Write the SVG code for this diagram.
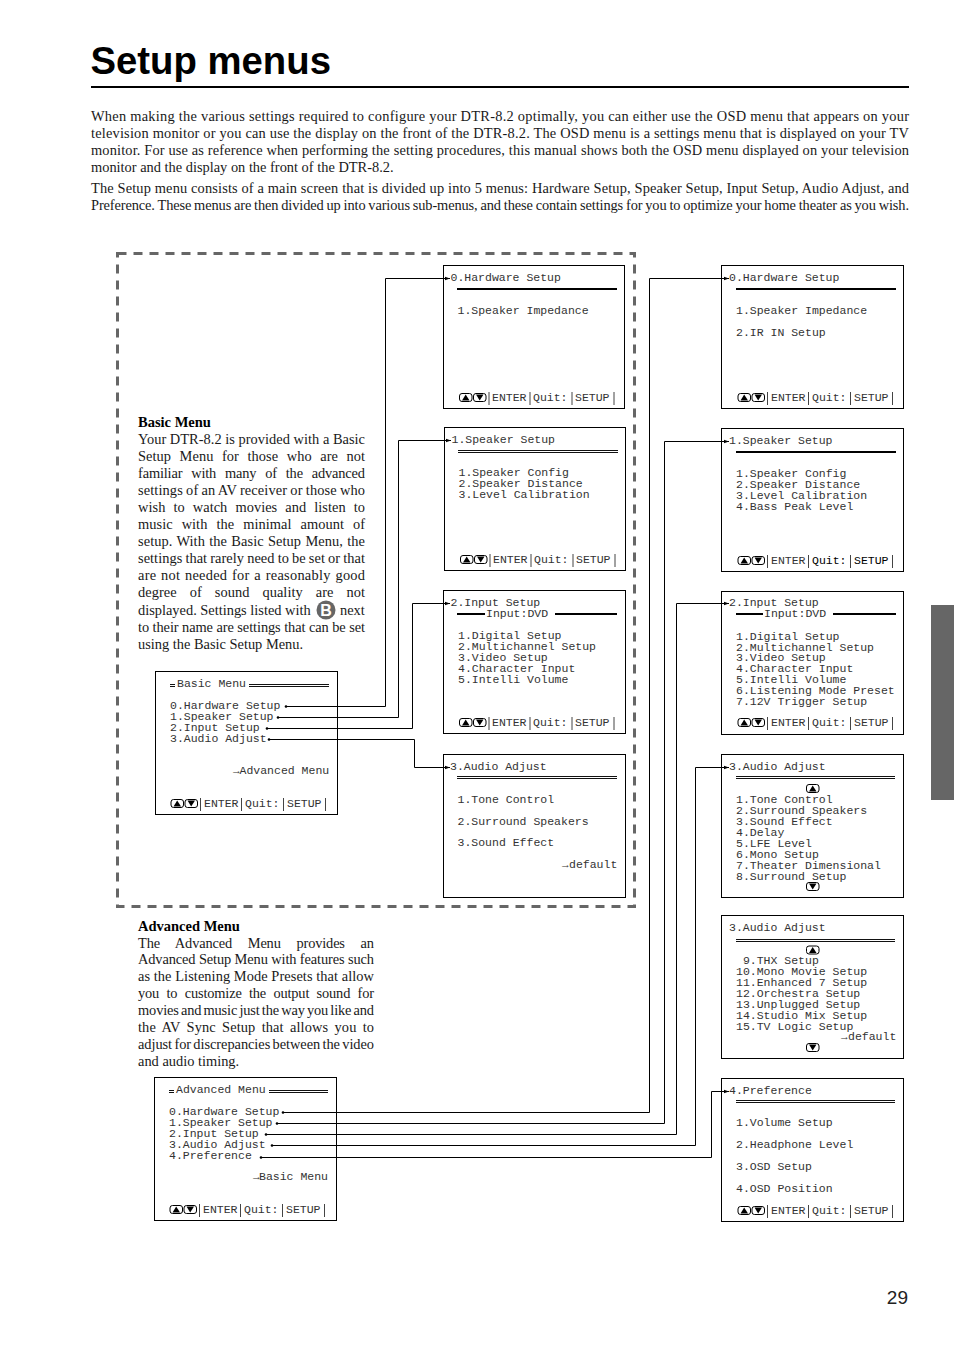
<svg xmlns="http://www.w3.org/2000/svg" width="954" height="1351" viewBox="0 0 954 1351">
<style>
text{font-family:"Liberation Serif","Times New Roman",serif;font-size:14.4px;fill:#1a1a1a}
.h{font-family:"Liberation Sans",Arial,sans-serif;font-weight:700;font-size:38.3px;fill:#000}
.pn{font-family:"Liberation Sans",Arial,sans-serif;font-size:19px;fill:#222}
.b{font-weight:700;fill:#000}
.m{font-family:"Liberation Mono","Courier New",monospace;font-size:11.5px;fill:#333}
.ar{font-size:11px}
.box{fill:#fff;stroke:#000;stroke-width:1}
.r1{stroke:#000;stroke-width:2;fill:none}
.r2{stroke:#111;stroke-width:1;fill:none}
.c{fill:none;stroke:#000;stroke-width:1;marker-end:url(#ah);marker-start:url(#dot)}
</style>
<defs>
<marker id="ah" markerUnits="userSpaceOnUse" markerWidth="7" markerHeight="6" refX="5.5" refY="3" orient="auto"><path d="M0 1L5.5 3L0 5Z" fill="#000"/></marker>
<marker id="dot" markerUnits="userSpaceOnUse" markerWidth="4" markerHeight="4" refX="2" refY="2"><circle cx="2" cy="2" r="1.3" fill="#000"/></marker>
<g id="bu"><rect x="0.5" y="0.5" width="12.5" height="8" rx="2.5" fill="#fff" stroke="#000"/><path d="M6.7 1.5L10.5 7.5H3Z" fill="#000"/></g>
<g id="bd"><rect x="0.5" y="0.5" width="12.5" height="8" rx="2.5" fill="#fff" stroke="#000"/><path d="M6.7 7.5L10.5 1.5H3Z" fill="#000"/></g>
<g id="foot"><use href="#bu" x="0" y="-8"/><use href="#bd" x="14" y="-8"/><path d="M30 -9V4M71 -9V4M113 -9V4M155 -9V4" stroke="#444" stroke-width="1" fill="none"/></g>
</defs>
<rect width="954" height="1351" fill="#fff"/>
<text class="h" x="90.5" y="74">Setup menus</text>
<path d="M91 87H909" stroke="#000" stroke-width="2"/>
<rect x="931" y="605" width="23" height="195" fill="#666"/>
<text class="pn" x="908" y="1304" text-anchor="end">29</text>

<g id="intro">
<text x="91" y="121" textLength="818">When making the various settings required to configure your DTR-8.2 optimally, you can either use the OSD menu that appears on your</text>
<text x="91" y="138" textLength="818">television monitor or you can use the display on the front of the DTR-8.2. The OSD menu is a settings menu that is displayed on your TV</text>
<text x="91" y="155" textLength="818">monitor. For use as reference when performing the setting procedures, this manual shows both the OSD menu displayed on your television</text>
<text x="91" y="172">monitor and the display on the front of the DTR-8.2.</text>
<text x="91" y="193" textLength="818">The Setup menu consists of a main screen that is divided up into 5 menus: Hardware Setup, Speaker Setup, Input Setup, Audio Adjust, and</text>
<text x="91" y="210" textLength="818" word-spacing="-0.6">Preference. These menus are then divided up into various sub-menus, and these contain settings for you to optimize your home theater as you wish.</text>
</g>

<rect id="basic-frame" x="117.5" y="253.5" width="517" height="653" fill="none" stroke="#666" stroke-width="3" stroke-dasharray="9 7"/>

<g id="basic-text">
<text class="b" x="138" y="427" style="font-size:14.5px">Basic Menu</text>
<text x="138" y="444" textLength="227">Your DTR-8.2 is provided with a Basic</text>
<text x="138" y="461" textLength="227" word-spacing="4.9">Setup Menu for those who are not</text>
<text x="138" y="478" textLength="227" word-spacing="5.4">familiar with many of the advanced</text>
<text x="138" y="495" textLength="227" word-spacing="-0.5">settings of an AV receiver or those who</text>
<text x="138" y="512" textLength="227" word-spacing="4.4">wish to watch movies and listen to</text>
<text x="138" y="529" textLength="227" word-spacing="5.4">music with the minimal amount of</text>
<text x="138" y="546" textLength="227" word-spacing="0.6">setup. With the Basic Setup Menu, the</text>
<text x="138" y="563" textLength="227" word-spacing="-0.5">settings that rarely need to be set or that</text>
<text x="138" y="580" textLength="227" word-spacing="0.9">are not needed for a reasonably good</text>
<text x="138" y="597" textLength="227" word-spacing="9.4">degree of sound quality are not</text>
<text x="138" y="615">displayed. Settings listed with</text>
<circle cx="326" cy="610" r="9.5" fill="#666"/>
<text x="326" y="615.5" text-anchor="middle" style="font-family:'Liberation Sans',sans-serif;font-weight:700;font-size:16px;fill:#fff">B</text>
<text x="340" y="615">next</text>
<text x="138" y="632" textLength="227">to their name are settings that can be set</text>
<text x="138" y="649">using the Basic Setup Menu.</text>
</g>
<g id="advanced-text">
<text class="b" x="138" y="931" style="font-size:14.5px">Advanced Menu</text>
<text x="138" y="948" textLength="236" word-spacing="12.3">The Advanced Menu provides an</text>
<text x="138" y="964" textLength="236">Advanced Setup Menu with features such</text>
<text x="138" y="981" textLength="236">as the Listening Mode Presets that allow</text>
<text x="138" y="998" textLength="236" word-spacing="3.9">you to customize the output sound for</text>
<text x="138" y="1015" textLength="236" word-spacing="-1.3">movies and music just the way you like and</text>
<text x="138" y="1032" textLength="236" word-spacing="2.5">the AV Sync Setup that allows you to</text>
<text x="138" y="1049" textLength="236" word-spacing="-1.2">adjust for discrepancies between the video</text>
<text x="138" y="1066">and audio timing.</text>
</g>

<g id="menu-basic">
<rect class="box" x="155.5" y="671.5" width="182" height="143"/>
<path class="r2" d="M170 684.5H175M170 686.5H175M249 684.5H329M249 686.5H329"/>
<text class="m" x="177" y="687">Basic Menu</text>
<text class="m" x="170" y="709">0.Hardware Setup</text>
<text class="m" x="170" y="720">1.Speaker Setup</text>
<text class="m" x="170" y="731">2.Input Setup</text>
<text class="m" x="170" y="742">3.Audio Adjust</text>
<text class="m" x="233" y="774"><tspan class="ar">→</tspan><tspan x="239.5">Advanced Menu</tspan></text>
<use href="#foot" x="170.5" y="807"/>
<text class="m" x="204" y="807">ENTER</text><text class="m" x="245" y="807">Quit:</text><text class="m" x="287" y="807">SETUP</text>
</g>
<g id="menu-advanced">
<rect class="box" x="154.5" y="1077.5" width="182" height="143"/>
<path class="r2" d="M169 1090.5H174M169 1092.5H174M269 1090.5H328M269 1092.5H328"/>
<text class="m" x="176" y="1093">Advanced Menu</text>
<text class="m" x="169" y="1115">0.Hardware Setup</text>
<text class="m" x="169" y="1126">1.Speaker Setup</text>
<text class="m" x="169" y="1137">2.Input Setup</text>
<text class="m" x="169" y="1148">3.Audio Adjust</text>
<text class="m" x="169" y="1159">4.Preference</text>
<text class="m" x="253" y="1180"><tspan class="ar">→</tspan><tspan x="259">Basic Menu</tspan></text>
<use href="#foot" x="169.5" y="1213"/>
<text class="m" x="203" y="1213">ENTER</text><text class="m" x="244" y="1213">Quit:</text><text class="m" x="286" y="1213">SETUP</text>
</g>

<g id="mid-hardware">
<rect class="box" x="443.5" y="265.5" width="181" height="143"/>
<path class="r1" d="M457 289H617"/>
<text class="m" x="450.5" y="281">0.Hardware Setup</text>
<text class="m" x="457.5" y="314">1.Speaker Impedance</text>
<use href="#foot" x="459" y="401"/>
<text class="m" x="492" y="401">ENTER</text><text class="m" x="533" y="401">Quit:</text><text class="m" x="575" y="401">SETUP</text>
</g>
<g id="mid-speaker">
<rect class="box" x="444.5" y="427.5" width="181" height="143"/>
<path class="r2" d="M458 450.5H618M458 452.5H618"/>
<text class="m" x="451.5" y="443">1.Speaker Setup</text>
<text class="m" x="458.5" y="476">1.Speaker Config</text>
<text class="m" x="458.5" y="487">2.Speaker Distance</text>
<text class="m" x="458.5" y="498">3.Level Calibration</text>
<use href="#foot" x="460" y="563"/>
<text class="m" x="493" y="563">ENTER</text><text class="m" x="534" y="563">Quit:</text><text class="m" x="576" y="563">SETUP</text>
</g>
<g id="mid-input">
<rect class="box" x="443.5" y="590.5" width="182" height="143"/>
<path class="r1" d="M457 614H485M555 614H617"/>
<text class="m" x="450.5" y="606">2.Input Setup</text>
<text class="m" x="486" y="617">Input:DVD</text>
<text class="m" x="458" y="639">1.Digital Setup</text>
<text class="m" x="458" y="650">2.Multichannel Setup</text>
<text class="m" x="458" y="661">3.Video Setup</text>
<text class="m" x="458" y="672">4.Character Input</text>
<text class="m" x="458" y="683">5.Intelli Volume</text>
<use href="#foot" x="459" y="726"/>
<text class="m" x="492" y="726">ENTER</text><text class="m" x="533" y="726">Quit:</text><text class="m" x="575" y="726">SETUP</text>
</g>
<g id="mid-audio">
<rect class="box" x="443.5" y="754.5" width="182" height="143"/>
<path class="r2" d="M457 776.5H617M457 778.5H617"/>
<text class="m" x="450" y="770">3.Audio Adjust</text>
<text class="m" x="457.5" y="803">1.Tone Control</text>
<text class="m" x="457.5" y="825">2.Surround Speakers</text>
<text class="m" x="457.5" y="846">3.Sound Effect</text>
<text class="m" x="562" y="868"><tspan class="ar">→</tspan><tspan x="569">default</tspan></text>
</g>

<g id="right-hardware">
<rect class="box" x="721.5" y="265.5" width="182" height="143"/>
<path class="r1" d="M736 289H896"/>
<text class="m" x="729" y="281">0.Hardware Setup</text>
<text class="m" x="736" y="314">1.Speaker Impedance</text>
<text class="m" x="736" y="336">2.IR IN Setup</text>
<use href="#foot" x="737.5" y="401"/>
<text class="m" x="771" y="401">ENTER</text><text class="m" x="812" y="401">Quit:</text><text class="m" x="854" y="401">SETUP</text>
</g>
<g id="right-speaker">
<rect class="box" x="721.5" y="428.5" width="182" height="143"/>
<path class="r1" d="M736 452H896"/>
<text class="m" x="729" y="444">1.Speaker Setup</text>
<text class="m" x="736" y="477">1.Speaker Config</text>
<text class="m" x="736" y="488">2.Speaker Distance</text>
<text class="m" x="736" y="499">3.Level Calibration</text>
<text class="m" x="736" y="510">4.Bass Peak Level</text>
<use href="#foot" x="737.5" y="564"/>
<text class="m" x="771" y="564">ENTER</text><text class="m" x="812" y="564" style="fill:#000">Quit:</text><text class="m" x="854" y="564" style="fill:#000">SETUP</text>
</g>
<g id="right-input">
<rect class="box" x="721.5" y="591.5" width="182" height="143"/>
<path class="r1" d="M736 614H763M833 614H896"/>
<text class="m" x="729" y="606">2.Input Setup</text>
<text class="m" x="764" y="617">Input:DVD</text>
<text class="m" x="736" y="640">1.Digital Setup</text>
<text class="m" x="736" y="650.5">2.Multichannel Setup</text>
<text class="m" x="736" y="661">3.Video Setup</text>
<text class="m" x="736" y="672">4.Character Input</text>
<text class="m" x="736" y="683">5.Intelli Volume</text>
<text class="m" x="736" y="694">6.Listening Mode Preset</text>
<text class="m" x="736" y="705">7.12V Trigger Setup</text>
<use href="#foot" x="737.5" y="726"/>
<text class="m" x="771" y="726">ENTER</text><text class="m" x="812" y="726">Quit:</text><text class="m" x="854" y="726">SETUP</text>
</g>
<g id="right-audio">
<rect class="box" x="721.5" y="754.5" width="182" height="143"/>
<path class="r2" d="M736 776.5H895M736 778.5H895"/>
<text class="m" x="729" y="770">3.Audio Adjust</text>
<use href="#bu" x="806" y="784"/>
<text class="m" x="736" y="803">1.Tone Control</text>
<text class="m" x="736" y="813.5">2.Surround Speakers</text>
<text class="m" x="736" y="824.5">3.Sound Effect</text>
<text class="m" x="736" y="835.5">4.Delay</text>
<text class="m" x="736" y="846.5">5.LFE Level</text>
<text class="m" x="736" y="857.5">6.Mono Setup</text>
<text class="m" x="736" y="868.5">7.Theater Dimensional</text>
<text class="m" x="736" y="879.5">8.Surround Setup</text>
<use href="#bd" x="806" y="882"/>
</g>
<g id="right-audio-2">
<rect class="box" x="721.5" y="915.5" width="182" height="143"/>
<path class="r2" d="M736 939.5H895M736 941.5H895"/>
<text class="m" x="729" y="931">3.Audio Adjust</text>
<use href="#bu" x="806" y="945.5"/>
<text class="m" x="736" y="964" xml:space="preserve"> 9.THX Setup</text>
<text class="m" x="736" y="975">10.Mono Movie Setup</text>
<text class="m" x="736" y="986">11.Enhanced 7 Setup</text>
<text class="m" x="736" y="997">12.Orchestra Setup</text>
<text class="m" x="736" y="1008">13.Unplugged Setup</text>
<text class="m" x="736" y="1019">14.Studio Mix Setup</text>
<text class="m" x="736" y="1030">15.TV Logic Setup</text>
<text class="m" x="841" y="1040"><tspan class="ar">→</tspan><tspan x="848">default</tspan></text>
<use href="#bd" x="806" y="1043"/>
</g>
<g id="right-preference">
<rect class="box" x="721.5" y="1078.5" width="182" height="143"/>
<path class="r2" d="M736 1100.5H895M736 1102.5H895"/>
<text class="m" x="729" y="1094">4.Preference</text>
<text class="m" x="736" y="1126">1.Volume Setup</text>
<text class="m" x="736" y="1148">2.Headphone Level</text>
<text class="m" x="736" y="1170">3.OSD Setup</text>
<text class="m" x="736" y="1192">4.OSD Position</text>
<use href="#foot" x="737.5" y="1214"/>
<text class="m" x="771" y="1214">ENTER</text><text class="m" x="812" y="1214">Quit:</text><text class="m" x="854" y="1214">SETUP</text>
</g>

<g id="connectors">
<path class="c" d="M286 706.5H385.5V278.5H450"/>
<path class="c" d="M278 717.5H398.5V440.5H451"/>
<path class="c" d="M267 728.5H412.5V603.5H450"/>
<path class="c" d="M269 739.5H414.5V767.5H450"/>
<path class="c" d="M283 1112.5H649.5V278.5H729"/>
<path class="c" d="M277 1123.5H664.5V441.5H729"/>
<path class="c" d="M266 1134.5H676.5V603.5H729"/>
<path class="c" d="M272 1145.5H695.5V767.5H729"/>
<path class="c" d="M261 1157.5H711.5V1091.5H729"/>
</g>
</svg>
